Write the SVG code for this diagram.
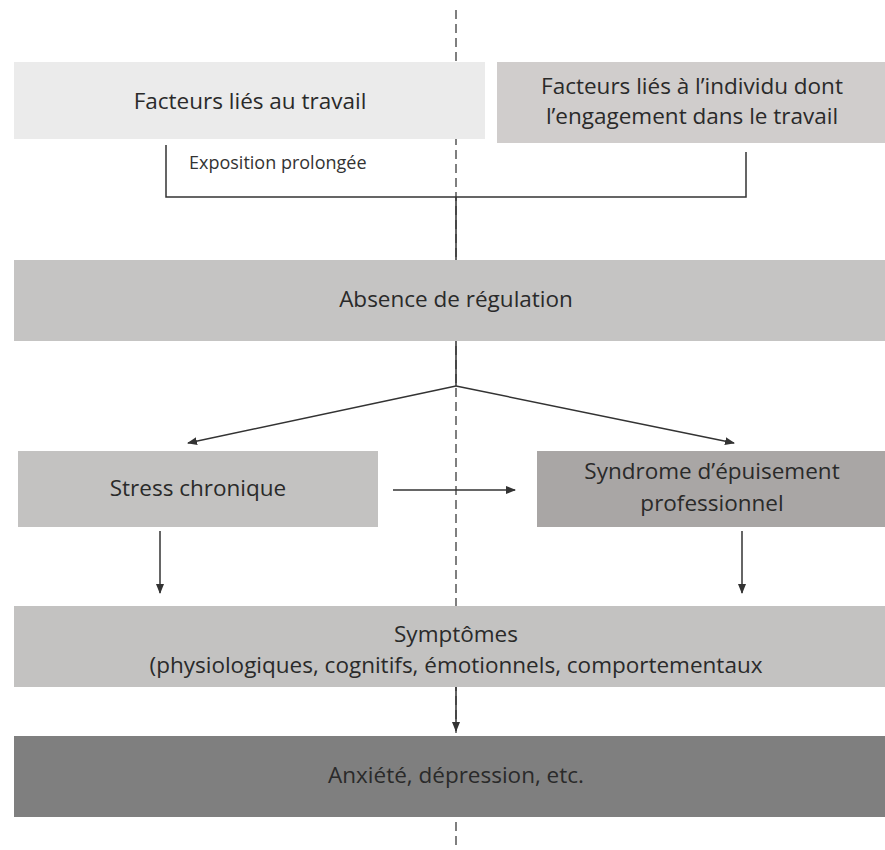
<svg xmlns="http://www.w3.org/2000/svg" width="885" height="850" viewBox="0 0 885 850">
<defs>
<style>
.t{font-family:"Open Sans","Liberation Sans",sans-serif;font-size:22.5px;fill:#2a2a2a;text-anchor:middle}
.s{font-family:"Open Sans","Liberation Sans",sans-serif;font-size:18px;fill:#333}
.l{stroke:#333;stroke-width:1.5;fill:none}
</style>
<marker id="ah" markerWidth="10" markerHeight="8" refX="9" refY="4" orient="auto" markerUnits="userSpaceOnUse">
<path d="M0,0 L10,4 L0,8 Z" fill="#333"/>
</marker>
</defs>
<rect width="885" height="850" fill="#fff"/>
<line x1="456" y1="10" x2="456" y2="850" stroke="#555" stroke-width="1.5" stroke-dasharray="9,5"/>
<g id="connectors">
<path class="l" d="M166,145 V197 H746 V152"/>
<line class="l" x1="456" y1="197" x2="456" y2="260"/>
<line class="l" x1="456" y1="341" x2="456" y2="386"/>
<line class="l" x1="456" y1="386" x2="188" y2="443" marker-end="url(#ah)"/>
<line class="l" x1="456" y1="386" x2="734" y2="443" marker-end="url(#ah)"/>
<line class="l" x1="393" y1="490" x2="515" y2="490" marker-end="url(#ah)"/>
<line class="l" x1="160" y1="531" x2="160" y2="593" marker-end="url(#ah)"/>
<line class="l" x1="742" y1="531" x2="742" y2="593" marker-end="url(#ah)"/>
<line class="l" x1="456" y1="687" x2="456" y2="731" marker-end="url(#ah)"/>
<text class="s" x="189" y="169">Exposition prolongée</text>
</g>
<g id="n1"><rect x="14" y="62" width="471" height="77" fill="#ebebeb"/><text class="t" x="250" y="109">Facteurs liés au travail</text></g>
<g id="n2"><rect x="497" y="62" width="388" height="81" fill="#d0cdcc"/><text class="t" x="692" y="94">Facteurs liés à l’individu dont</text><text class="t" x="692" y="124">l’engagement dans le travail</text></g>
<g id="n3"><rect x="14" y="260" width="871" height="81" fill="#c5c4c3"/><text class="t" x="456" y="307">Absence de régulation</text></g>
<g id="n4"><rect x="18" y="451" width="360" height="76" fill="#c3c2c1"/><text class="t" x="198" y="496">Stress chronique</text></g>
<g id="n5"><rect x="537" y="451" width="348" height="76" fill="#a9a6a5"/><text class="t" x="712" y="479">Syndrome d’épuisement</text><text class="t" x="712" y="511">professionnel</text></g>
<g id="n6"><rect x="14" y="606" width="871" height="81" fill="#c3c2c1"/><text class="t" x="456" y="642">Symptômes</text><text class="t" x="456" y="673">(physiologiques, cognitifs, émotionnels, comportementaux</text></g>
<g id="n7"><rect x="14" y="736" width="871" height="81" fill="#7f7f7f"/><text class="t" x="456" y="783">Anxiété, dépression, etc.</text></g>
</svg>
